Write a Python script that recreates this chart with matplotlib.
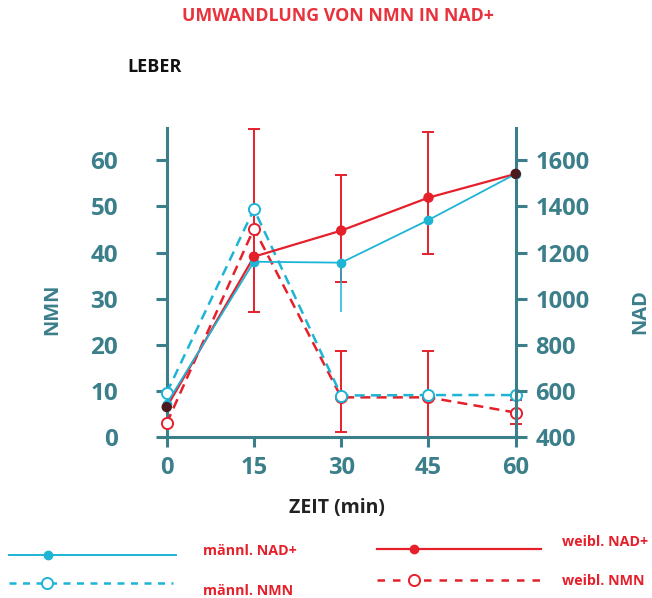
import matplotlib
matplotlib.use("Agg")
import matplotlib.pyplot as plt
from matplotlib.lines import Line2D

plt.rcParams['font.family'] = ['Open Sans', 'DejaVu Sans']

# Zeitpunkte (min)
zeit = [0, 15, 30, 45, 60]

# NAD+ (rechte Achse)
nad_maennl = [545, 1160, 1156, 1341, 1541]
nad_weibl = [530, 1182, 1295, 1438, 1541]

# NMN (linke Achse)
nmn_maennl = [9.6, 49.4, 9.0, 9.1, 9.1]
nmn_weibl = [3.0, 45.2, 8.6, 8.6, 5.3]

err_x = [15, 30, 45, 30, 45, 60]
err_lo = [27.0, 33.5, 39.6, 1.0, 0.0, 2.8]
err_hi = [66.8, 56.7, 66.1, 18.7, 18.7, 8.0]
# duenner cyan Balken bei 30 min
err_c_x = [30]
err_c_lo = [27.0]
err_c_hi = [37.8]

teal = '#3b7f8b'
cyan = '#1db4d6'
red = '#e5202b'
dark = '#4a1a1e'

fig = plt.figure(figsize=(6.52, 5.98), dpi=100)
ax = fig.add_axes([0.2557, 0.2692, 0.5353, 0.5168])
ax2 = ax.twinx()

ax.set_xlim(0, 60)
ax.set_ylim(0, 67)
ax2.set_ylim(400, 400 + 20 * 67)

# Fehlerbalken
mid = [(a + b) / 2 for a, b in zip(err_lo, err_hi)]
half = [(b - a) / 2 for a, b in zip(err_lo, err_hi)]
ax.errorbar(err_x, mid, yerr=half, fmt='none', ecolor=red, elinewidth=1.4,
            capsize=4.5, capthick=1.4, zorder=2, clip_on=False)
mid_c = [(a + b) / 2 for a, b in zip(err_c_lo, err_c_hi)]
half_c = [(b - a) / 2 for a, b in zip(err_c_lo, err_c_hi)]
ax.errorbar(err_c_x, mid_c, yerr=half_c, fmt='none', ecolor=cyan,
            elinewidth=1.1, capsize=0, zorder=2)

# NMN gestrichelt
ax.plot(zeit, nmn_maennl, color=cyan, lw=1.8, ls=(0, (4, 2.5)), marker='o',
        ms=8, mfc='white', mec=cyan, mew=1.4, zorder=4, clip_on=False)
ax.plot(zeit, nmn_weibl, color=red, lw=1.8, ls=(0, (4, 2.5)), marker='o',
        ms=8, mfc='white', mec=red, mew=1.4, zorder=3, clip_on=False)

# NAD+ durchgezogen
ax2.plot(zeit, nad_maennl, color=cyan, lw=1.3, marker='o', ms=6,
         mfc=cyan, mec=cyan, zorder=4, clip_on=False)
ax2.plot(zeit, nad_weibl, color=red, lw=1.6, zorder=3, clip_on=False)
wcols = [dark, red, red, red, dark]
ax2.scatter(zeit, nad_weibl, s=42, c=wcols, zorder=5, clip_on=False)

# Achsen
for a in (ax, ax2):
    a.spines['top'].set_visible(False)
    for s in ('left', 'right', 'bottom'):
        a.spines[s].set_color(teal)
        a.spines[s].set_linewidth(2.2)
ax2.spines['left'].set_visible(False)
ax2.spines['bottom'].set_visible(False)
ax.spines['right'].set_visible(False)

ax.set_xticks(zeit)
ax.set_yticks(range(0, 61, 10))
ax2.set_yticks(range(400, 1601, 200))

ax.tick_params(axis='x', direction='out', length=7, width=2.2, color=teal,
               pad=7, labelsize=17, labelcolor=teal)
ax.tick_params(axis='y', direction='out', length=8, width=2.2, color=teal,
               pad=27, labelsize=17.5, labelcolor=teal)
ax2.tick_params(axis='y', direction='out', length=8, width=2.2, color=teal,
                pad=6, labelsize=17, labelcolor=teal)
for lab in ax.get_xticklabels() + ax.get_yticklabels() + ax2.get_yticklabels():
    lab.set_fontweight('bold')

W, H = 652.0, 598.0

# Achsentitel
fig.text(52 / W, 1 - 309 / H, 'NMN', ha='center', va='center', rotation=90,
         fontsize=14.5, fontweight='bold', color=teal)
fig.text(640 / W, 1 - 312 / H, 'NAD', ha='center', va='center', rotation=90,
         fontsize=14.5, fontweight='bold', color=teal)
fig.text(337 / W, 1 - 508 / H, 'ZEIT (min)', ha='center', va='center',
         fontsize=14, fontweight='bold', color='#222222')

# Titel
fig.text(338 / W, 1 - 16 / H, 'UMWANDLUNG VON NMN IN NAD+', ha='center',
         va='center', fontsize=12.8, fontweight='bold', color='#e8323c')
fig.text(127 / W, 1 - 67 / H, 'LEBER', ha='left', va='center',
         fontsize=13, fontweight='bold', color='#111111')


# Legende (von Hand)
def leg(x0, x1, xm, y, col, ls, filled, lw):
    fig.add_artist(Line2D([x0 / W, x1 / W], [1 - y / H, 1 - y / H],
                          color=col, lw=lw, ls=ls))
    if filled:
        fig.add_artist(Line2D([xm / W], [1 - y / H], marker='o', ms=6,
                              mfc=col, mec=col, ls='none'))
    else:
        fig.add_artist(Line2D([xm / W], [1 - y / H], marker='o', ms=8,
                              mfc='white', mec=col, mew=1.4, ls='none'))


leg(9, 176, 48, 555, cyan, '-', True, 1.4)
leg(9, 173, 47, 583, cyan, (0, (2.8, 2.6)), False, 1.8)
leg(377, 541, 414, 549, red, '-', True, 1.6)
leg(377, 541, 414, 580, red, (0, (3, 3.2)), False, 1.8)

lab_kw = dict(ha='left', va='center', fontsize=10.3, fontweight='bold',
              color=red)
fig.text(203 / W, 1 - 551 / H, 'männl. NAD+', **lab_kw)
fig.text(203 / W, 1 - 591 / H, 'männl. NMN', **lab_kw)
fig.text(562 / W, 1 - 542 / H, 'weibl. NAD+', **lab_kw)
fig.text(562 / W, 1 - 581 / H, 'weibl. NMN', **lab_kw)

fig.savefig('out.png', dpi=100)
